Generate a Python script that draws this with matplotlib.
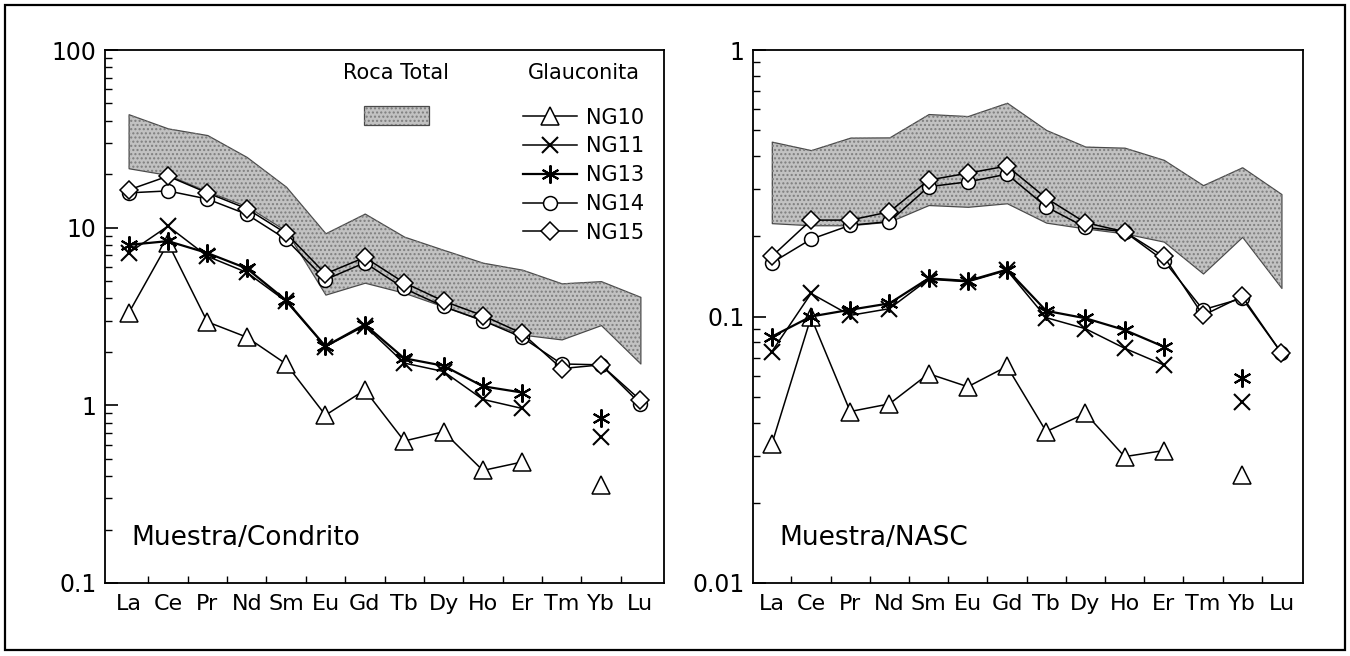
import numpy as np
import matplotlib
matplotlib.use('Agg')
import matplotlib.pyplot as plt
from matplotlib.patches import Rectangle
from matplotlib.lines import Line2D
from matplotlib.ticker import FixedLocator, FuncFormatter, LogLocator, NullFormatter

plt.rcParams['font.family'] = ['DejaVu Sans']

elements = ['La', 'Ce', 'Pr', 'Nd', 'Sm', 'Eu', 'Gd', 'Tb', 'Dy', 'Ho', 'Er', 'Tm', 'Yb', 'Lu']
nan = np.nan

# ---- Left panel: Muestra/Condrito ----
ch_ng10 = [3.3, 8.2, 2.95, 2.42, 1.71, 0.88, 1.22, 0.63, 0.71, 0.43, 0.48, nan, 0.356, nan]
ch_ng11 = [7.2, 10.2, 6.9, 5.6, 3.85, 2.14, 2.8, 1.73, 1.55, 1.08, 0.96, nan, 0.666, nan]
ch_ng13 = [8.0, 8.4, 7.2, 5.9, 3.9, 2.15, 2.85, 1.84, 1.67, 1.28, 1.18, nan, 0.845, nan]
ch_ng14 = [15.7, 16.1, 14.5, 11.9, 8.6, 5.1, 6.35, 4.55, 3.6, 3.0, 2.41, 1.71, 1.69, 1.02]
ch_ng15 = [16.3, 19.5, 15.7, 12.8, 9.3, 5.5, 6.8, 4.9, 3.86, 3.2, 2.54, 1.61, 1.69, 1.07]
ch_rt_hi = [43.5, 36.2, 33.2, 25.0, 17.0, 9.3, 12.0, 8.9, 7.5, 6.35, 5.8, 4.86, 5.0, 4.08]
ch_rt_lo = [21.6, 19.8, 16.0, 13.2, 9.6, 4.2, 4.9, 4.3, 3.6, 3.0, 2.5, 2.35, 2.83, 1.72]

# ---- Right panel: Muestra/NASC ----
na_ng10 = [0.0332, 0.0993, 0.044, 0.047, 0.061, 0.0545, 0.065, 0.037, 0.0433, 0.0298, 0.0314, nan, 0.0254, nan]
na_ng11 = [0.0738, 0.122, 0.101, 0.107, 0.138, 0.135, 0.149, 0.099, 0.090, 0.076, 0.0658, nan, 0.0479, nan]
na_ng13 = [0.084, 0.100, 0.106, 0.112, 0.139, 0.136, 0.150, 0.105, 0.0985, 0.089, 0.077, nan, 0.0586, nan]
na_ng14 = [0.159, 0.195, 0.22, 0.227, 0.307, 0.32, 0.342, 0.258, 0.216, 0.208, 0.162, 0.106, 0.117, 0.073]
na_ng15 = [0.168, 0.230, 0.23, 0.247, 0.325, 0.345, 0.367, 0.278, 0.225, 0.208, 0.168, 0.101, 0.119, 0.073]
na_rt_hi = [0.453, 0.421, 0.469, 0.47, 0.575, 0.565, 0.634, 0.501, 0.434, 0.43, 0.387, 0.311, 0.363, 0.288]
na_rt_lo = [0.224, 0.22, 0.22, 0.227, 0.262, 0.258, 0.266, 0.225, 0.214, 0.205, 0.191, 0.145, 0.199, 0.128]

series_names = ['NG10', 'NG11', 'NG13', 'NG14', 'NG15']
series_style = {
    'NG10': dict(marker='^', ms=13, lw=1.1),
    'NG11': dict(marker='x', ms=11, lw=1.1, mew=1.5),
    'NG13': dict(marker=(6, 2, 0), ms=13, lw=1.6, mew=1.5),
    'NG14': dict(marker='o', ms=10, lw=1.1),
    'NG15': dict(marker='D', ms=9, lw=1.1),
}

BAND_FACE = '#c2c2c2'
BAND_EDGE = '#4a4a4a'
BAND_DOTS = '#7e7e7e'

W, H = 1350, 656
fig = plt.figure(figsize=(W / 100, H / 100), dpi=100)

def frac(x0, y0, x1, y1):
    return [x0 / W, 1 - y1 / H, (x1 - x0) / W, (y1 - y0) / H]

ax1 = fig.add_axes(frac(105, 50, 664, 583))
ax2 = fig.add_axes(frac(753, 50, 1303, 583))

x = np.arange(len(elements))

def draw(ax, data, hi, lo, ylim, xlim, note):
    ax.fill_between(x, lo, hi, facecolor=BAND_FACE, edgecolor=BAND_EDGE, linewidth=0.9, zorder=1)
    ax.fill_between(x, lo, hi, facecolor='none', edgecolor=BAND_DOTS, hatch='....', linewidth=0, zorder=1.1)
    for name, vals in zip(series_names, data):
        st = series_style[name]
        ax.plot(x, vals, color='black', linewidth=st['lw'], marker=st['marker'],
                markersize=st['ms'], markerfacecolor='white', markeredgecolor='black',
                markeredgewidth=st.get('mew', 1.1), zorder=3)
    ax.set_yscale('log')
    ax.set_ylim(*ylim)
    ax.set_xlim(*xlim)
    ax.yaxis.set_major_formatter(FuncFormatter(lambda v, p: f'{v:g}'))
    ax.yaxis.set_minor_locator(LogLocator(base=10, subs=np.arange(2, 10)))
    ax.yaxis.set_minor_formatter(NullFormatter())
    ax.tick_params(axis='y', which='major', direction='in', length=9, width=1.2,
                   labelsize=17, pad=6)
    ax.tick_params(axis='y', which='minor', direction='in', length=5, width=1)
    ax.set_xticks(x)
    ax.set_xticklabels(elements)
    ax.xaxis.set_minor_locator(FixedLocator(x[:-1] + 0.5))
    ax.tick_params(axis='x', which='major', length=0, labelsize=16, pad=8)
    ax.tick_params(axis='x', which='minor', direction='in', length=5, width=1)
    for s in ax.spines.values():
        s.set_linewidth(1.3)
    ax.text(0.048, 0.085, note, transform=ax.transAxes, fontsize=19, va='center', ha='left')

draw(ax1, [ch_ng10, ch_ng11, ch_ng13, ch_ng14, ch_ng15], ch_rt_hi, ch_rt_lo,
     (0.1, 100), (-0.6, 13.6), 'Muestra/Condrito')
draw(ax2, [na_ng10, na_ng11, na_ng13, na_ng14, na_ng15], na_rt_hi, na_rt_lo,
     (0.01, 1), (-0.48, 13.55), 'Muestra/NASC')

# Legend area on left panel
ax1.text(0.5206, 0.957, 'Roca Total', transform=ax1.transAxes, fontsize=15, ha='center', va='center')
ax1.text(0.857, 0.957, 'Glauconita', transform=ax1.transAxes, fontsize=15, ha='center', va='center')
ax1.add_patch(Rectangle((0.4633, 0.8593), 0.1163, 0.0356, transform=ax1.transAxes,
                        facecolor=BAND_FACE, edgecolor=BAND_EDGE, linewidth=0.9, zorder=2))
ax1.add_patch(Rectangle((0.4633, 0.8593), 0.1163, 0.0356, transform=ax1.transAxes,
                        facecolor='none', edgecolor=BAND_DOTS, hatch='....', linewidth=0, zorder=2.1))

handles = []
for name in series_names:
    st = series_style[name]
    handles.append(Line2D([], [], color='black', linewidth=st['lw'], marker=st['marker'],
                          markersize=st['ms'], markerfacecolor='white', markeredgecolor='black',
                          markeredgewidth=st.get('mew', 1.1)))
ax1.legend(handles, series_names, loc='upper left', bbox_to_anchor=(0.748, 0.892),
           frameon=False, fontsize=15, handlelength=2.6, handletextpad=0.43,
           labelspacing=0.42, borderpad=0, borderaxespad=0)

# Outer frame
fig.patches.append(Rectangle((0.004, 0.009), 0.992, 0.983, transform=fig.transFigure,
                             fill=False, edgecolor='black', linewidth=1.6))

fig.savefig('out.png', dpi=100)
